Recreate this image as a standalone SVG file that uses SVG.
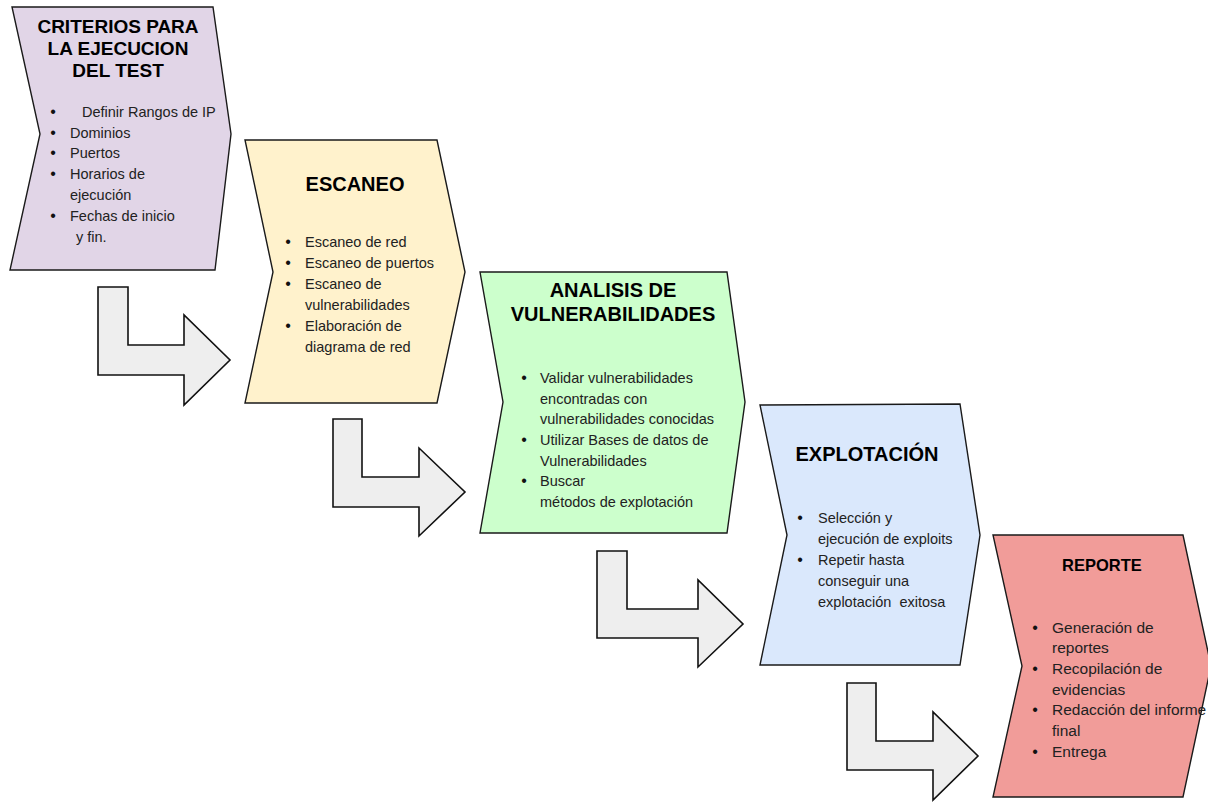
<svg xmlns="http://www.w3.org/2000/svg" width="1208" height="803" viewBox="0 0 1208 803">
<style>
.shape{stroke:#1a1a1a;stroke-width:1.4;stroke-linejoin:miter}
.arrow{fill:#eeeeee;stroke:#111;stroke-width:1.6;stroke-linejoin:miter}
.title{font-family:"Liberation Sans",Arial,sans-serif;font-weight:bold;font-size:20px;fill:#000;text-anchor:middle}
.body{font-family:"Liberation Sans",Arial,sans-serif;font-size:14.5px;fill:#222;white-space:pre}
.bul{font-family:"Liberation Sans",Arial,sans-serif;font-size:16px;fill:#111;text-anchor:middle}
.big{font-size:15.5px}
</style>
<rect width="1208" height="803" fill="#ffffff"/>
<g id="connectors">
<polygon class="arrow" points="98,287 128,287 128,345 184,345 184,315 230,360 184,405 184,375 98,375"/>
<polygon class="arrow" points="333,419 362,419 362,477 419,477 419,448 465,492 419,536 419,507 333,507"/>
<polygon class="arrow" points="597,551 627,551 627,609 698,609 698,580 743,624 698,667 698,638 597,638"/>
<polygon class="arrow" points="847,683 876,683 876,741 933,741 933,712 978,756 933,800 933,770 847,770"/>
</g>
<g id="criterios">
<polygon class="shape" fill="#e1d5e7" points="12,7 213,7 231,134 215,270 10,270 40,134"/>
<text class="title" style="font-size:19px" x="118" y="33">CRITERIOS PARA</text>
<text class="title" style="font-size:19px" x="118" y="55">LA EJECUCION</text>
<text class="title" style="font-size:19px" x="118" y="77">DEL TEST</text>
<text class="bul" x="53" y="117">•</text>
<text class="body" x="82" y="117">Definir Rangos de IP</text>
<text class="bul" x="53" y="138">•</text>
<text class="body" x="70" y="138">Dominios</text>
<text class="bul" x="53" y="158">•</text>
<text class="body" x="70" y="158">Puertos</text>
<text class="bul" x="53" y="179">•</text>
<text class="body" x="70" y="179">Horarios de</text>
<text class="body" x="70" y="200">ejecución</text>
<text class="bul" x="53" y="221">•</text>
<text class="body" x="70" y="221">Fechas de inicio</text>
<text class="body" x="76" y="242">y fin.</text>
</g>
<g id="escaneo">
<polygon class="shape" fill="#fff2cc" points="245,140 437,140 465,272 437,403 245,403 273,272"/>
<text class="title" x="355" y="191">ESCANEO</text>
<text class="bul" x="288" y="247">•</text>
<text class="body" x="305" y="247">Escaneo de red</text>
<text class="bul" x="288" y="268">•</text>
<text class="body" x="305" y="268">Escaneo de puertos</text>
<text class="bul" x="288" y="289">•</text>
<text class="body" x="305" y="289">Escaneo de</text>
<text class="body" x="305" y="310">vulnerabilidades</text>
<text class="bul" x="288" y="331">•</text>
<text class="body" x="305" y="331">Elaboración de</text>
<text class="body" x="305" y="352">diagrama de red</text>
</g>
<g id="analisis">
<polygon class="shape" fill="#ccffcc" points="480,272 727,272 745,402 727,533 480,533 503,402"/>
<text class="title" x="613" y="297">ANALISIS DE</text>
<text class="title" x="613" y="321">VULNERABILIDADES</text>
<text class="bul" x="524" y="383">•</text>
<text class="body" x="540" y="383">Validar vulnerabilidades</text>
<text class="body" x="540" y="404">encontradas con</text>
<text class="body" x="540" y="424">vulnerabilidades conocidas</text>
<text class="bul" x="524" y="445">•</text>
<text class="body" x="540" y="445">Utilizar Bases de datos de</text>
<text class="body" x="540" y="466">Vulnerabilidades</text>
<text class="bul" x="524" y="486">•</text>
<text class="body" x="540" y="486">Buscar</text>
<text class="body" x="540" y="507">métodos de explotación</text>
</g>
<g id="explotacion">
<polygon class="shape" fill="#dae8fc" points="760,405 960,404 980,535 960,665 760,665 787,535"/>
<text class="title" x="867" y="461">EXPLOTACIÓN</text>
<text class="bul" x="800" y="523">•</text>
<text class="body" x="818" y="523">Selección y</text>
<text class="body" x="818" y="544">ejecución de exploits</text>
<text class="bul" x="800" y="565">•</text>
<text class="body" x="818" y="565">Repetir hasta</text>
<text class="body" x="818" y="586">conseguir una</text>
<text class="body" x="818" y="607">explotación  exitosa</text>
</g>
<g id="reporte">
<polygon class="shape" fill="#f19c99" stroke="#2a1010" points="993,535 1183,535 1211,666 1183,797 993,797 1022,666"/>
<text class="title" style="font-size:16.5px" x="1102" y="571">REPORTE</text>
<text class="bul" x="1035" y="633">•</text>
<text class="body big" x="1052" y="633">Generación de</text>
<text class="body big" x="1052" y="653">reportes</text>
<text class="bul" x="1035" y="674">•</text>
<text class="body big" x="1052" y="674">Recopilación de</text>
<text class="body big" x="1052" y="695">evidencias</text>
<text class="bul" x="1035" y="715">•</text>
<text class="body big" x="1052" y="715">Redacción del informe</text>
<text class="body big" x="1052" y="736">final</text>
<text class="bul" x="1035" y="757">•</text>
<text class="body big" x="1052" y="757">Entrega</text>
</g>
</svg>
